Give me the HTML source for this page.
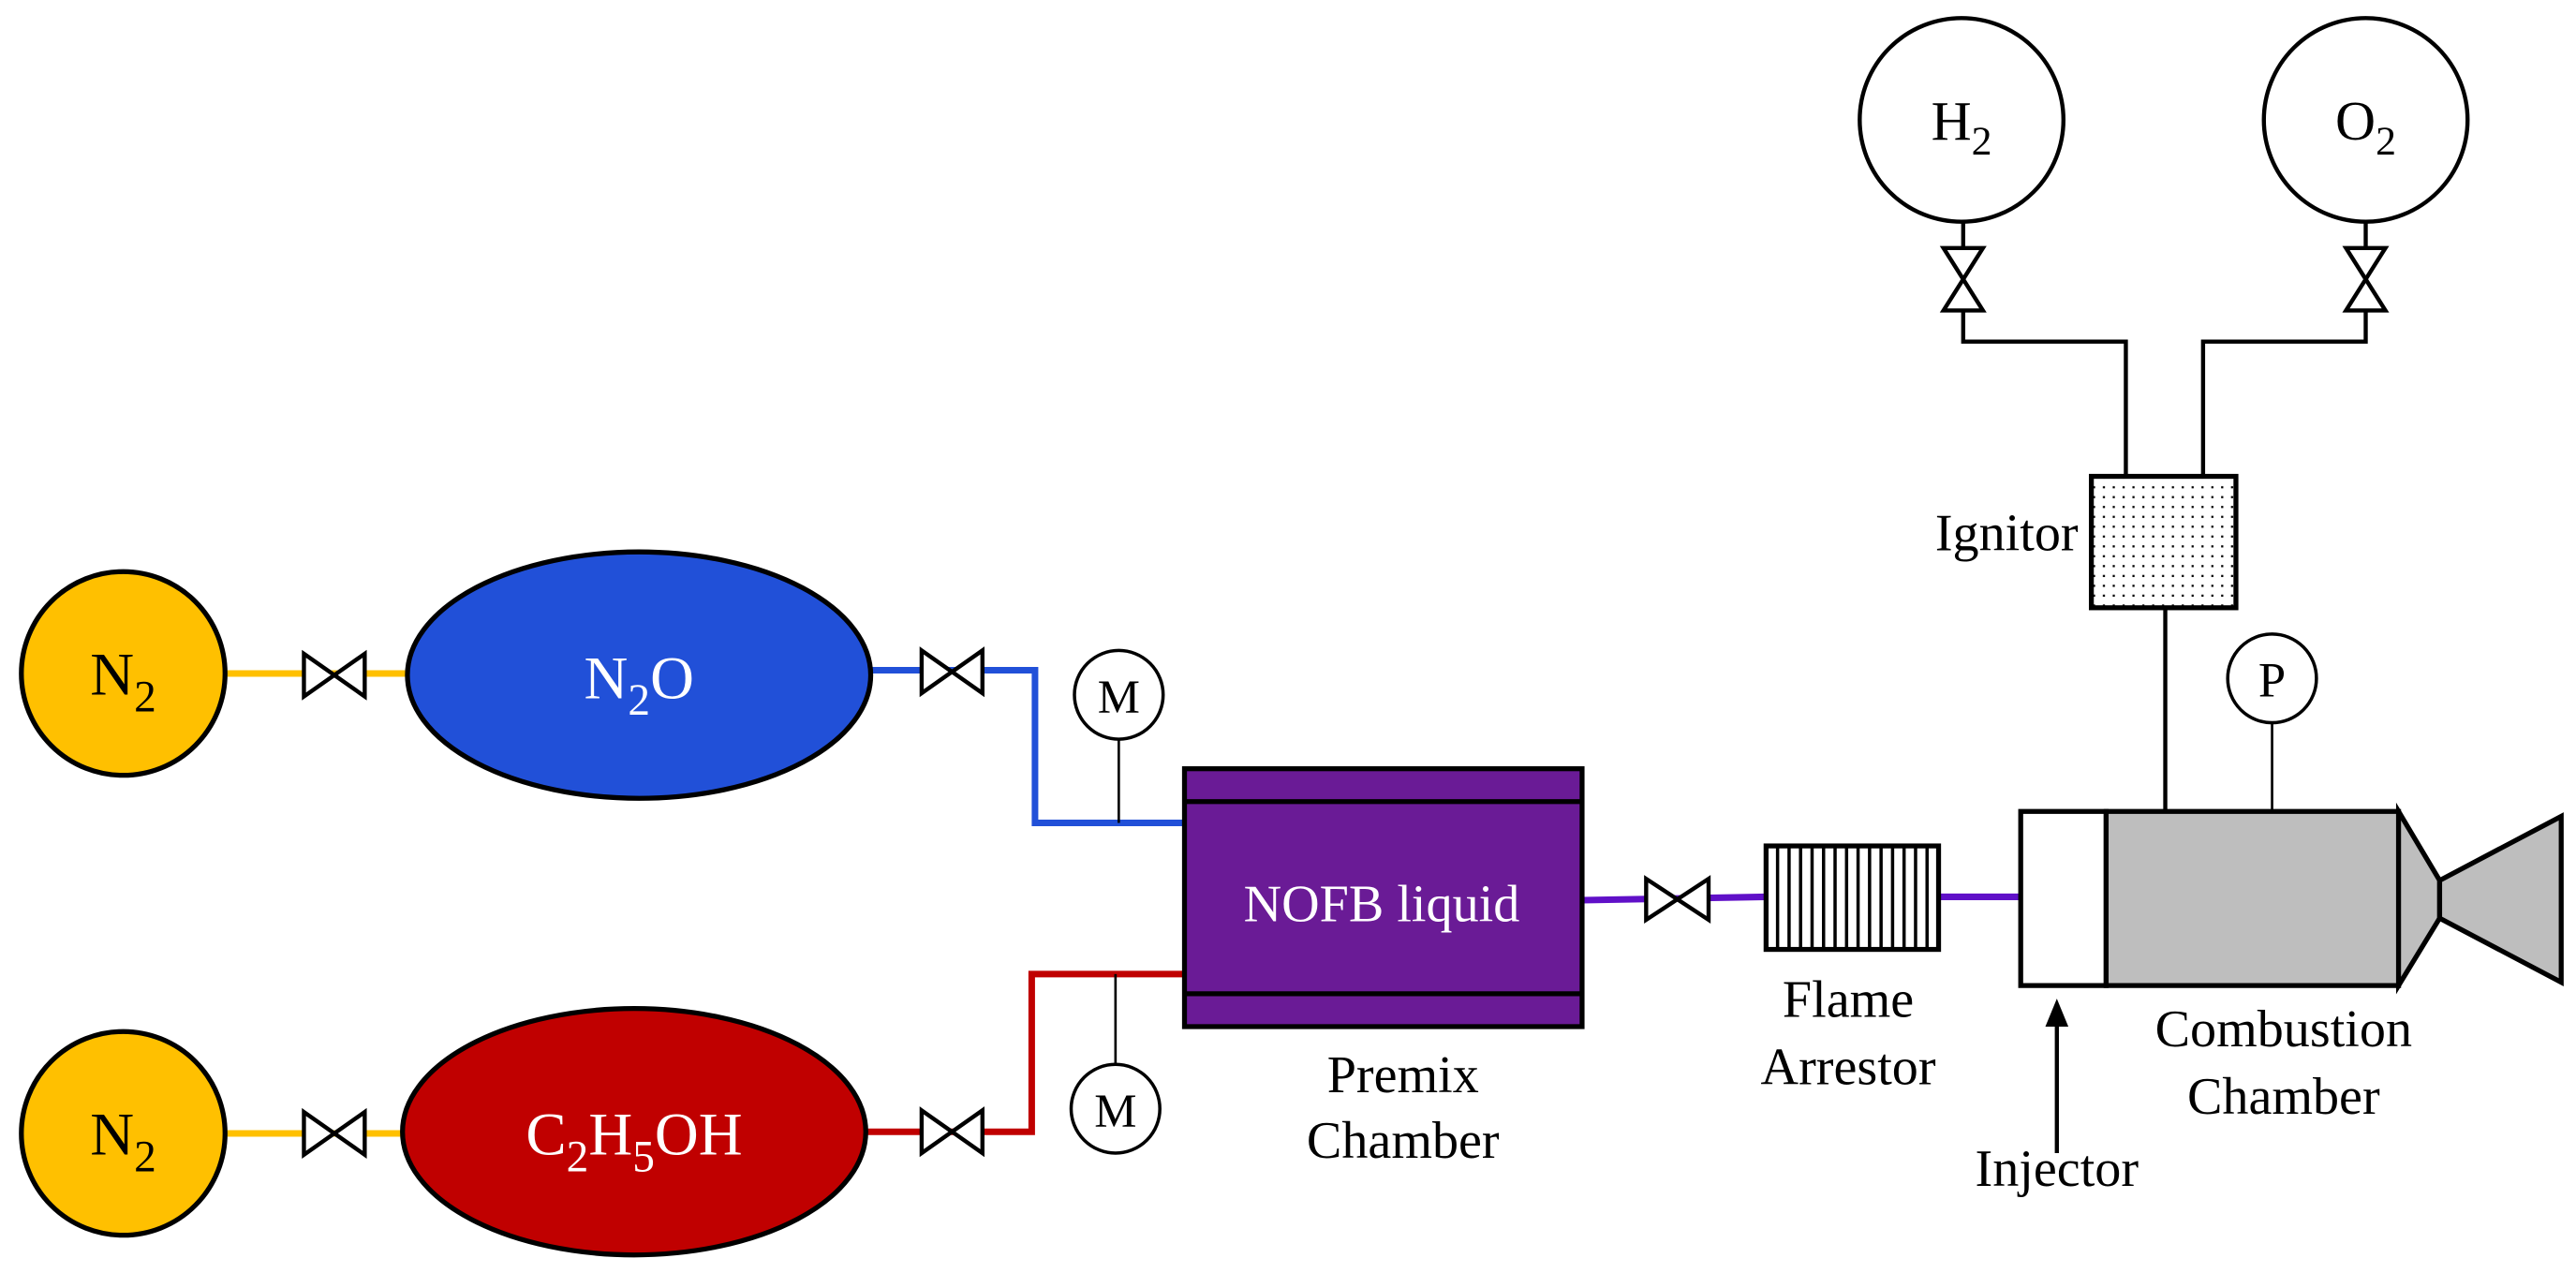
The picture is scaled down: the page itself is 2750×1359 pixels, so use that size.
<!DOCTYPE html>
<html><head><style>html,body{margin:0;padding:0;background:#fff;}svg{display:block;}</style></head>
<body>
<svg width="2750" height="1359" viewBox="0 0 1568 775" preserveAspectRatio="none" xmlns="http://www.w3.org/2000/svg" font-family="Liberation Serif, serif">
<!-- yellow lines -->
<line x1="137" y1="410" x2="248" y2="410" stroke="#FFC000" stroke-width="4"/>
<line x1="137" y1="690" x2="246" y2="690" stroke="#FFC000" stroke-width="4"/>
<!-- blue line -->
<polyline points="530,408 630,408 630,501 720,501" fill="none" stroke="#2150D8" stroke-width="4"/>
<!-- red line -->
<polyline points="527,689 628,689 628,593 720,593" fill="none" stroke="#C00000" stroke-width="4"/>
<!-- purple line -->
<polyline points="963,548 1075,546" fill="none" stroke="#6010C8" stroke-width="4"/>
<line x1="1180" y1="546" x2="1230" y2="546" stroke="#6010C8" stroke-width="4"/>
<!-- N2 tanks -->
<circle cx="75" cy="410" r="62" fill="#FFC000" stroke="#000" stroke-width="3"/>
<text x="75" y="423" font-size="37" text-anchor="middle">N<tspan font-size="27" dy="10">2</tspan></text>
<circle cx="75" cy="690" r="62" fill="#FFC000" stroke="#000" stroke-width="3"/>
<text x="75" y="703" font-size="37" text-anchor="middle">N<tspan font-size="27" dy="10">2</tspan></text>
<!-- N2O -->
<ellipse cx="389" cy="411" rx="141" ry="75" fill="#2150D8" stroke="#000" stroke-width="3"/>
<text x="389" y="425" font-size="37" text-anchor="middle" fill="#fff">N<tspan font-size="27" dy="10">2</tspan><tspan dy="-10">O</tspan></text>
<!-- C2H5OH -->
<ellipse cx="386" cy="689" rx="141" ry="75" fill="#C00000" stroke="#000" stroke-width="3"/>
<text x="386" y="703" font-size="37" text-anchor="middle" fill="#fff">C<tspan font-size="27" dy="10">2</tspan><tspan dy="-10">H</tspan><tspan font-size="27" dy="10">5</tspan><tspan dy="-10">OH</tspan></text>
<!-- valves -->
<g fill="#fff" stroke="#000" stroke-width="2.5">
<polygon points="185,398 222,424 222,398 185,424"/>
<polygon points="185,677 222,703 222,677 185,703"/>
<polygon points="561,396 598,422 598,396 561,422"/>
<polygon points="561,676 598,702 598,676 561,702"/>
<polygon points="1002,535 1040,560 1040,535 1002,560"/>
<polygon points="1183,151 1207,189 1183,189 1207,151"/>
<polygon points="1428,151 1452,189 1428,189 1452,151"/>
</g>
<!-- M gauges -->
<line x1="681" y1="450" x2="681" y2="501" stroke="#000" stroke-width="1.5"/>
<circle cx="681" cy="423" r="27" fill="#fff" stroke="#000" stroke-width="2"/>
<text x="681" y="434" font-size="29" text-anchor="middle">M</text>
<line x1="679" y1="593" x2="679" y2="648" stroke="#000" stroke-width="1.5"/>
<circle cx="679" cy="675" r="27" fill="#fff" stroke="#000" stroke-width="2"/>
<text x="679" y="686" font-size="29" text-anchor="middle">M</text>
<!-- premix -->
<rect x="721" y="468" width="242" height="157" fill="#6A1B96" stroke="#000" stroke-width="3"/>
<line x1="721" y1="488" x2="963" y2="488" stroke="#000" stroke-width="3"/>
<line x1="721" y1="605" x2="963" y2="605" stroke="#000" stroke-width="3"/>
<text x="841" y="561" font-size="32" text-anchor="middle" fill="#fff">NOFB liquid</text>
<text x="854" y="665" font-size="32" text-anchor="middle">Premix</text>
<text x="854" y="705" font-size="32" text-anchor="middle">Chamber</text>
<!-- flame arrestor -->
<rect x="1075" y="515" width="105" height="63" fill="#fff" stroke="#000" stroke-width="3"/>
<g stroke="#000" stroke-width="2">
<line x1="1082" y1="515" x2="1082" y2="578"/><line x1="1089" y1="515" x2="1089" y2="578"/>
<line x1="1096" y1="515" x2="1096" y2="578"/><line x1="1103" y1="515" x2="1103" y2="578"/>
<line x1="1110" y1="515" x2="1110" y2="578"/><line x1="1117" y1="515" x2="1117" y2="578"/>
<line x1="1124" y1="515" x2="1124" y2="578"/><line x1="1131" y1="515" x2="1131" y2="578"/>
<line x1="1138" y1="515" x2="1138" y2="578"/><line x1="1145" y1="515" x2="1145" y2="578"/>
<line x1="1152" y1="515" x2="1152" y2="578"/><line x1="1159" y1="515" x2="1159" y2="578"/>
<line x1="1166" y1="515" x2="1166" y2="578"/><line x1="1173" y1="515" x2="1173" y2="578"/>
</g>
<text x="1125" y="619" font-size="32" text-anchor="middle">Flame</text>
<text x="1125" y="660" font-size="32" text-anchor="middle">Arrestor</text>
<!-- ignitor lines -->
<polyline points="1195,189 1195,208 1294,208 1294,290" fill="none" stroke="#000" stroke-width="2.5"/>
<polyline points="1440,189 1440,208 1341,208 1341,290" fill="none" stroke="#000" stroke-width="2.5"/>
<line x1="1195" y1="151" x2="1195" y2="135" stroke="#000" stroke-width="2.5"/>
<line x1="1440" y1="151" x2="1440" y2="135" stroke="#000" stroke-width="2.5"/>
<line x1="1318" y1="370" x2="1318" y2="493" stroke="#000" stroke-width="2.5"/>
<line x1="1383" y1="440" x2="1383" y2="493" stroke="#000" stroke-width="1.5"/>
<!-- H2 O2 -->
<circle cx="1194" cy="73" r="62" fill="#fff" stroke="#000" stroke-width="2.5"/>
<text x="1194" y="85" font-size="34" text-anchor="middle">H<tspan font-size="25" dy="9">2</tspan></text>
<circle cx="1440" cy="73" r="62" fill="#fff" stroke="#000" stroke-width="2.5"/>
<text x="1440" y="85" font-size="34" text-anchor="middle">O<tspan font-size="25" dy="9">2</tspan></text>
<!-- ignitor -->
<defs><pattern id="dots" width="6" height="6" patternUnits="userSpaceOnUse"><rect x="2" y="2" width="1.3" height="1.3" fill="#000"/></pattern></defs>
<rect x="1273" y="290" width="88" height="80" fill="url(#dots)" stroke="#000" stroke-width="3"/>
<text x="1265" y="335" font-size="32" text-anchor="end">Ignitor</text>
<!-- P gauge -->
<circle cx="1383" cy="413" r="27" fill="#fff" stroke="#000" stroke-width="2"/>
<text x="1383" y="424" font-size="30" text-anchor="middle">P</text>
<!-- combustion -->
<rect x="1230" y="494" width="52" height="106" fill="#fff" stroke="#000" stroke-width="3"/>
<rect x="1282" y="494" width="178" height="106" fill="#BEBEBE" stroke="#000" stroke-width="3"/>
<polygon points="1460,494 1485,536 1485,559 1460,600" fill="#BEBEBE" stroke="#000" stroke-width="3"/>
<polygon points="1485,536 1559,497 1559,598 1485,559" fill="#BEBEBE" stroke="#000" stroke-width="3"/>
<text x="1390" y="637" font-size="32" text-anchor="middle">Combustion</text>
<text x="1390" y="678" font-size="32" text-anchor="middle">Chamber</text>
<!-- injector arrow -->
<line x1="1252" y1="702" x2="1252" y2="622" stroke="#000" stroke-width="2.5"/>
<polygon points="1245,625 1259,625 1252,608" fill="#000"/>
<text x="1252" y="722" font-size="32" text-anchor="middle">Injector</text>
</svg>
</body></html>
